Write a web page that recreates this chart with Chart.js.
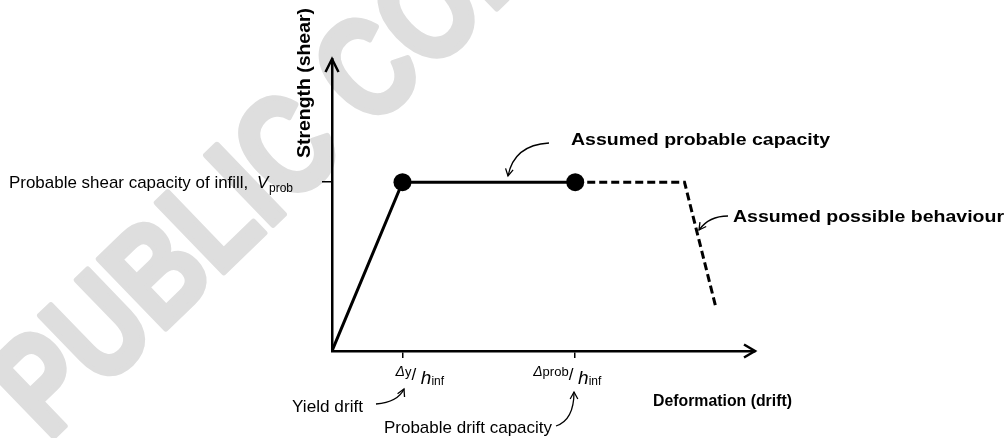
<!DOCTYPE html>
<html>
<head>
<meta charset="utf-8">
<script src="https://cdn.jsdelivr.net/npm/chart.js@4.4.0/dist/chart.umd.min.js"></script>
<style>
  body { margin: 0; background: #fff; }
</style>
</head>
<body>
<canvas id="grafico" width="1007" height="438"></canvas>
<script>
// curva de capacidade (deriva, cortante)
var curveDrift = [0, 1.0, 3.45];
var curveShear = [0, 1.0, 1.0];
// comportamento possivel (tracejado)
var possibleDrift = [3.45, 5.0, 5.45];
var possibleShear = [1.0, 1.0, 0.25];

var driftTicks = [1.0, 3.45];
var driftTickSub = ["y", "prob"];
var shearTicks = [1.0];
var driftMax = 6;
var shearMax = 1.73;

var yTitle = "Strength (shear)";
var xTitle = "Deformation (drift)";
var shearLabel = "Probable shear capacity of infill, ";
var noteCapacity = "Assumed probable capacity";
var noteBehaviour = "Assumed possible behaviour";
var noteYield = "Yield drift";
var noteDrift = "Probable drift capacity";
var watermark = "PUBLIC COMMENT";

var FONT = "'Liberation Sans', Arial, sans-serif";

function pts(xs, ys) {
  return xs.map(function (x, i) { return { x: x, y: ys[i] }; });
}

function texto(ctx, txt, x, y, font, width) {
  ctx.font = font;
  var w = ctx.measureText(txt).width;
  ctx.save();
  ctx.translate(x, y);
  if (width) ctx.scale(width / w, 1);
  ctx.fillText(txt, 0, 0);
  ctx.restore();
}

function seta(ctx, x0, y0, cx, cy, x1, y1) {
  ctx.beginPath();
  ctx.moveTo(x0, y0);
  ctx.quadraticCurveTo(cx, cy, x1, y1);
  ctx.stroke();
  var a = Math.atan2(y1 - cy, x1 - cx);
  var L = 8, s = 0.5;
  ctx.beginPath();
  ctx.moveTo(x1 - L * Math.cos(a - s), y1 - L * Math.sin(a - s));
  ctx.lineTo(x1, y1);
  ctx.lineTo(x1 - L * Math.cos(a + s), y1 - L * Math.sin(a + s));
  ctx.stroke();
}

var fundo = {
  id: 'fundo',
  beforeDraw: function (chart) {
    var ctx = chart.ctx;
    ctx.save();
    ctx.fillStyle = '#fff';
    ctx.fillRect(0, 0, chart.width, chart.height);
    ctx.translate(48, 442);
    ctx.rotate(-44 * Math.PI / 180);
    ctx.scale(0.8, 1);
    ctx.fillStyle = '#dedede';
    ctx.strokeStyle = '#dedede';
    ctx.lineWidth = 6;
    ctx.lineJoin = 'round';
    ctx.font = 'bold 140px ' + FONT;
    ctx.fillText(watermark, 0, 0);
    ctx.strokeText(watermark, 0, 0);
    ctx.restore();
  }
};

var anotacoes = {
  id: 'anotacoes',
  afterDraw: function (chart) {
    var ctx = chart.ctx;
    var a = chart.chartArea;
    var xs = chart.scales.x, ys = chart.scales.y;
    ctx.save();
    ctx.strokeStyle = '#000';
    ctx.fillStyle = '#000';

    // pontas das setas dos eixos
    ctx.lineWidth = 2.5;
    ctx.beginPath();
    ctx.moveTo(a.left - 6.5, a.top + 13);
    ctx.lineTo(a.left, a.top);
    ctx.lineTo(a.left + 6.5, a.top + 13);
    ctx.stroke();
    ctx.beginPath();
    ctx.moveTo(a.right - 11, a.bottom - 6.5);
    ctx.lineTo(a.right, a.bottom);
    ctx.lineTo(a.right - 11, a.bottom + 6.5);
    ctx.stroke();

    // titulos
    ctx.textBaseline = 'alphabetic';
    ctx.save();
    ctx.translate(310, 158);
    ctx.rotate(-Math.PI / 2);
    texto(ctx, yTitle, 0, 0, 'bold 18px ' + FONT, 150);
    ctx.restore();
    texto(ctx, xTitle, 653, 406, 'bold 17px ' + FONT, 139);

    // rotulo de V_prob
    var vy = ys.getPixelForValue(shearTicks[0]);
    texto(ctx, shearLabel, 9, vy + 6, '17px ' + FONT, 244);
    texto(ctx, 'V', 257, vy + 6, 'italic 17px ' + FONT);
    texto(ctx, 'prob', 269, vy + 10, '12px ' + FONT);

    // rotulos dos ticks de deriva
    var dx = [-7, -42];
    driftTicks.forEach(function (v, i) {
      var x = xs.getPixelForValue(v) + dx[i];
      ctx.font = 'italic 14px ' + FONT;
      ctx.fillText('\u0394', x, 376);
      x += ctx.measureText('\u0394').width;
      ctx.font = '13px ' + FONT;
      ctx.fillText(driftTickSub[i], x, 376);
      x += ctx.measureText(driftTickSub[i]).width;
      ctx.font = '17px ' + FONT;
      ctx.fillText('/', x, 380);
      x += ctx.measureText('/ ').width;
      ctx.font = 'italic 19px ' + FONT;
      ctx.fillText('h', x, 384);
      x += ctx.measureText('h').width;
      ctx.font = '12px ' + FONT;
      ctx.fillText('inf', x, 385);
    });

    // notas
    texto(ctx, noteCapacity, 571, 145, 'bold 17px ' + FONT, 259);
    texto(ctx, noteBehaviour, 733, 222, 'bold 17px ' + FONT, 271);
    texto(ctx, noteYield, 292, 412, '17px ' + FONT, 71);
    texto(ctx, noteDrift, 384, 433, '17px ' + FONT, 168);

    // setas curvas
    ctx.lineWidth = 1.3;
    seta(ctx, 549, 143, 514, 145, 508, 176);
    seta(ctx, 728, 216, 709, 216, 699, 230);
    seta(ctx, 376, 404, 398, 402, 404, 389);
    seta(ctx, 556, 426, 574, 420, 574, 392);
    ctx.restore();
  }
};

var ctx = document.getElementById('grafico').getContext('2d');
var myChart = new Chart(ctx, {
  type: 'line',
  data: {
    datasets: [{
      data: pts(curveDrift, curveShear),
      borderColor: '#000',
      backgroundColor: '#000',
      borderWidth: 3,
      pointRadius: [0, 9, 9],
      pointBackgroundColor: '#000',
      pointBorderWidth: 0,
      tension: 0
    }, {
      data: pts(possibleDrift, possibleShear),
      borderColor: '#000',
      borderWidth: 3,
      borderDash: [8, 4],
      pointRadius: 0,
      tension: 0
    }]
  },
  options: {
    responsive: false,
    animation: false,
    events: [],
    layout: { padding: { left: 322, right: 252, top: 59, bottom: 80 } },
    plugins: {
      legend: { display: false },
      tooltip: { enabled: false }
    },
    scales: {
      x: {
        type: 'linear',
        min: 0,
        max: driftMax,
        afterBuildTicks: function (s) { s.ticks = driftTicks.map(function (v) { return { value: v }; }); },
        afterFit: function (s) { s.height = 7; },
        ticks: { display: false },
        grid: { drawOnChartArea: false, color: '#000', lineWidth: 1.5, tickLength: 7 },
        border: { color: '#000', width: 2.5 }
      },
      y: {
        type: 'linear',
        min: 0,
        max: shearMax,
        afterBuildTicks: function (s) { s.ticks = shearTicks.map(function (v) { return { value: v }; }); },
        afterFit: function (s) { s.width = 10; },
        ticks: { display: false },
        grid: { drawOnChartArea: false, color: '#000', lineWidth: 1.5, tickLength: 10 },
        border: { color: '#000', width: 2.5 }
      }
    }
  },
  plugins: [fundo, anotacoes]
});
</script>
</body>
</html>
